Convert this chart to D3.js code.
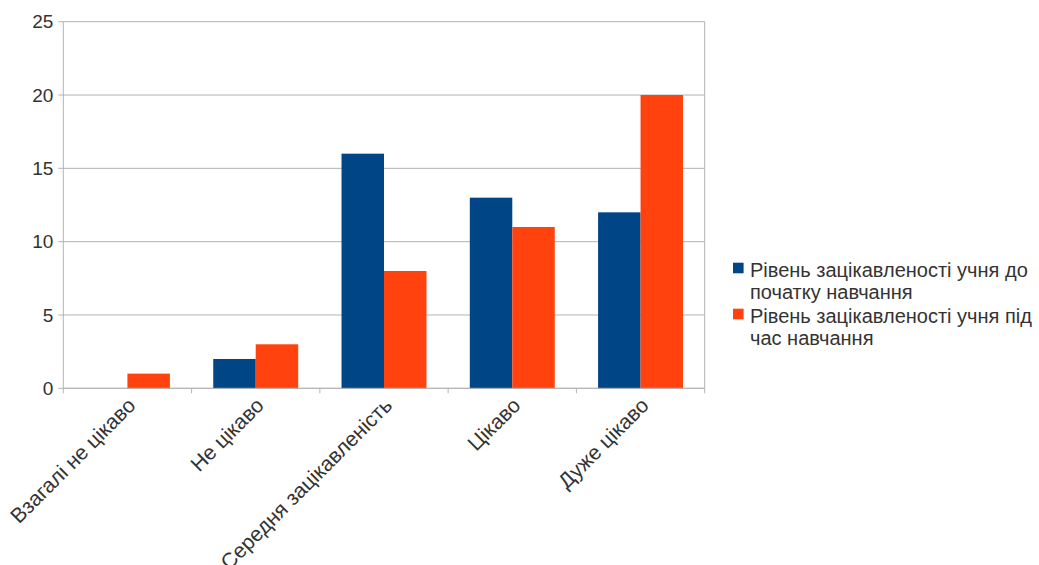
<!DOCTYPE html>
<html><head><meta charset="utf-8">
<script src="https://cdn.jsdelivr.net/npm/d3@7/dist/d3.min.js"></script>
<style>body{margin:0;background:#fff}svg{display:block;font-family:"Liberation Sans",Arial,sans-serif}</style>
</head><body><svg id="c" width="1039" height="565"></svg>
<script>
const categories = ["Взагалі не цікаво","Не цікаво","Середня зацікавленість","Цікаво","Дуже цікаво"];
const seriesNames = ["Рівень зацікавленості учня до початку навчання","Рівень зацікавленості учня під час навчання"];
const seriesBefore = [0,2,16,13,12];
const seriesDuring = [1,3,8,11,20];
const yTicks = [0,5,10,15,20,25];
const colors = ["#004586","#ff420e"];
const legendLines = [["Рівень зацікавленості учня до","початку навчання"],["Рівень зацікавленості учня під","час навчання"]];

const svg = d3.select("#c");
const L=63.3, R=704.7, T=21.7, B=388.3;
const x = d3.scaleBand().domain(categories).range([L,R]).paddingInner(0).paddingOuter(0);
const y = d3.scaleLinear().domain([0,25]).range([B,T]);
const grid="#b3b3b3";

// gridlines
svg.append("g").selectAll("line").data(yTicks).join("line")
  .attr("x1",L-5).attr("x2",R).attr("y1",d=>y(d)).attr("y2",d=>y(d))
  .attr("stroke",grid).attr("stroke-width",1);
// left & right borders
svg.append("line").attr("x1",L).attr("x2",L).attr("y1",T).attr("y2",B).attr("stroke",grid);
svg.append("line").attr("x1",R).attr("x2",R).attr("y1",T).attr("y2",B).attr("stroke",grid);

// y tick labels
svg.append("g").selectAll("text").data(yTicks).join("text")
  .attr("x",L-10).attr("y",d=>y(d)).attr("dy","0.35em").attr("text-anchor","end")
  .attr("font-size",19).attr("fill","#333").text(d=>d);

// bars
const inner = d3.scaleBand().domain([0,1]).range([0,x.bandwidth()]).paddingOuter(0.51).paddingInner(0);
const data=[seriesBefore,seriesDuring];
data.forEach((vals,si)=>{
  svg.append("g").selectAll("rect").data(vals.map((v,i)=>({v,c:categories[i]}))).join("rect")
    .attr("x",d=>x(d.c)+inner(si)).attr("width",inner.bandwidth())
    .attr("y",d=>y(d.v)).attr("height",d=>y(0)-y(d.v))
    .attr("fill",colors[si]);
});

// x axis
const xa = svg.append("g").attr("transform",`translate(0,${B})`);
xa.append("line").attr("x1",L).attr("x2",R).attr("stroke",grid);
const bounds = categories.map(c=>x(c)).concat([R]);
xa.selectAll("line.t").data(bounds).join("line").attr("class","t")
  .attr("x1",d=>d).attr("x2",d=>d).attr("y1",0).attr("y2",5).attr("stroke",grid);
svg.append("g").selectAll("text").data(categories).join("text")
  .attr("transform",d=>`translate(${x(d)+x.bandwidth()/2 - 1},${B+8}) rotate(-45)`)
  .attr("text-anchor","end").attr("dy","0.7em")
  .attr("font-size",21).attr("fill","#333").text(d=>d);

// legend
const lg = svg.append("g");
legendLines.forEach((lines,i)=>{
  const y0 = 277 + i*46;
  lg.append("rect").attr("x",733).attr("y",y0-14.3).attr("width",10.6).attr("height",10.6).attr("fill",colors[i]);
  lines.forEach((t,j)=>{
    lg.append("text").attr("x",750).attr("y",y0+j*21.5).attr("font-size",20).attr("fill","#333").text(t);
  });
});
</script></body></html>
